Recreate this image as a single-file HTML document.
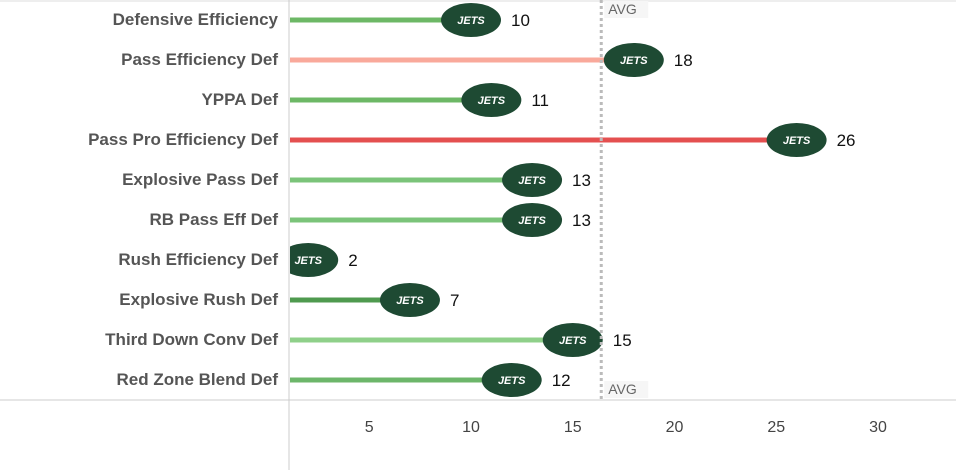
<!DOCTYPE html>
<html><head><meta charset="utf-8"><style>
body{margin:0;background:#fff;font-family:"Liberation Sans",Arial,sans-serif}
svg text{font-family:"Liberation Sans",Arial,sans-serif}
</style></head><body>
<svg width="956" height="470" id="c">
<defs><clipPath id="plot"><rect x="290" y="0" width="666" height="400"/></clipPath></defs>
<line x1="0" y1="1" x2="956" y2="1" stroke="#ddd"/>
<line x1="289" y1="0" x2="289" y2="470" stroke="#ccc"/>
<line x1="0" y1="400" x2="956" y2="400" stroke="#ccc"/>
<g id="p" clip-path="url(#plot)"></g>
</svg>
<script>
const categories=["Defensive Efficiency","Pass Efficiency Def","YPPA Def","Pass Pro Efficiency Def","Explosive Pass Def","RB Pass Eff Def","Rush Efficiency Def","Explosive Rush Def","Third Down Conv Def","Red Zone Blend Def"];
const ranks=[10,18,11,26,13,13,2,7,15,12];
const colors=["#6db866","#f9a99b","#6db866","#e45050","#7bc47a","#7bc47a","#4f9a4f","#4f9a4f","#8fd08a","#6cb66a"];
const ticks=[5,10,15,20,25,30];
const avgValue=16.4;
const svg=document.getElementById('c');
const plot=document.getElementById('p');
const NS='http://www.w3.org/2000/svg';
const x=v=>267.5+20.35*v;
const y=i=>19+40*i;
function mk(t,a,txt,par){const e=document.createElementNS(NS,t);for(const k in a)e.setAttribute(k,a[k]);if(txt!==undefined&&txt!==null)e.textContent=txt;(par||svg).appendChild(e);return e;}
ticks.forEach(t=>{const e=mk('text',{x:x(t),y:432,'text-anchor':'middle','font-size':16,fill:'#444'},t);

});
const av=mk('line',{x1:x(avgValue),y1:0,x2:x(avgValue),y2:400,stroke:'#bbb','stroke-width':3,'stroke-dasharray':'3,3'});


[[14,'avg-label-top'],[394,'avg-label-bottom']].forEach(([yy,n])=>{const r=mk('rect',{x:x(avgValue)+3,y:yy-13,width:44,height:17,fill:'#f6f6f6'});


const t=mk('text',{x:x(avgValue)+7,y:yy,'font-size':14,fill:'#666'},'AVG');

});
categories.forEach((c,i)=>{
const l=mk('text',{x:278,y:y(i)+6,'text-anchor':'end','font-size':17,'font-weight':'bold',fill:'#555'},c);


const b=mk('line',{x1:290,y1:y(i)+1,x2:x(ranks[i]),y2:y(i)+1,stroke:colors[i],'stroke-width':5},null,plot);


const g=mk('ellipse',{cx:x(ranks[i]),cy:y(i)+1,rx:30,ry:17,fill:'#1e4a33'},null,plot);


const jt=mk('text',{x:x(ranks[i]),y:y(i)+5,'text-anchor':'middle','font-size':11,'font-weight':'bold','font-style':'italic',fill:'#fff'},'JETS',plot);


const v=mk('text',{x:x(ranks[i])+40,y:y(i)+7,'font-size':17,fill:'#111'},ranks[i]);


});
</script>
</body></html>
